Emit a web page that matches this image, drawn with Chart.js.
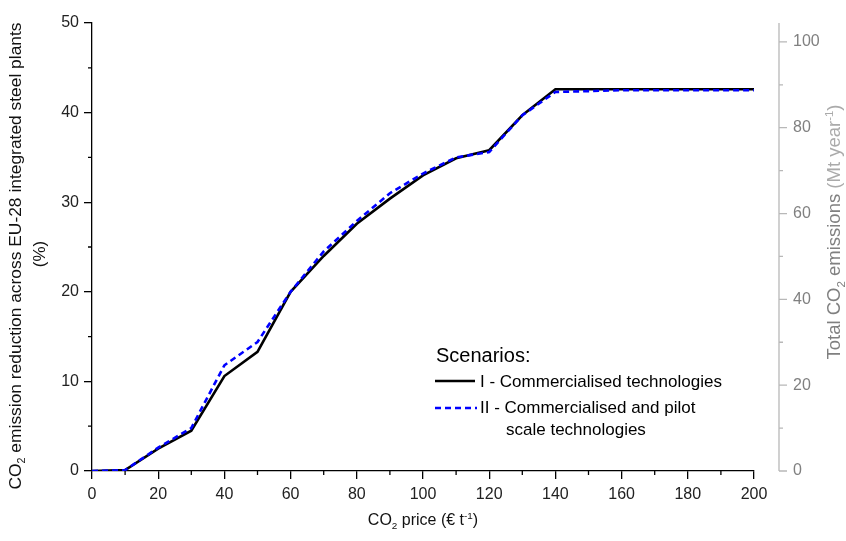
<!DOCTYPE html>
<html>
<head>
<meta charset="utf-8">
<script src="https://cdn.jsdelivr.net/npm/chart.js@4/dist/chart.umd.min.js"></script>
<style>
  html, body { margin: 0; padding: 0; background: #fff; }
  #wrap { width: 846px; height: 541px; }
</style>
</head>
<body>
<div id="wrap"><canvas id="mychart" width="846" height="541"></canvas></div>
<script>
// CO2 price (EUR per tonne)
var prices = [0, 10, 20, 30, 40, 50, 60, 70, 80, 90, 100, 110, 120, 130, 140, 150, 160, 170, 180, 190, 200]
// scenario I - commercialised technologies (% reduction)
var scenarioI = [0, 0.1, 2.5, 4.5, 10.6, 13.3, 20.0, 24.0, 27.6, 30.4, 33.0, 34.9, 35.8, 39.7, 42.6, 42.6, 42.6, 42.6, 42.6, 42.6, 42.6]
// scenario II - commercialised and pilot scale technologies (% reduction)
var scenarioII = [0, 0.1, 2.6, 4.8, 11.8, 14.4, 20.0, 24.5, 27.9, 31.0, 33.2, 35.0, 35.6, 39.7, 42.3, 42.4, 42.5, 42.5, 42.5, 42.5, 42.5]

var labelI = "I - Commercialised technologies"
var labelII = ["II - Commercialised and pilot", "scale technologies"]
var legendTitle = "Scenarios:"

var xTicks = [0, 20, 40, 60, 80, 100, 120, 140, 160, 180, 200]
var leftTicks = [0, 10, 20, 30, 40, 50]
var rightTicks = [0, 20, 40, 60, 80, 100]
var rightMax = 104.4   // right axis is total emissions, same height as 0-50 %

var FONT = "'Liberation Sans', Arial, sans-serif"

// draw text pieces with sub / superscripts, centred on (0,0) of the current transform
function drawRich(ctx, parts, size, color) {
  var w = 0
  parts.forEach(function(p){
    ctx.font = (p[1] ? size * 0.62 : size) + "px " + FONT
    w += ctx.measureText(p[0]).width
  })
  var x = -w / 2
  ctx.textBaseline = "middle"
  ctx.textAlign = "left"
  parts.forEach(function(p){
    var s = p[1] ? size * 0.62 : size
    ctx.font = s + "px " + FONT
    ctx.fillStyle = p[2] || color
    var dy = 0
    if (p[1] === "sub") dy = size * 0.35
    if (p[1] === "sup") dy = -size * 0.3
    ctx.fillText(p[0], x, dy)
    x += ctx.measureText(p[0]).width
  })
}

var decor = {
  id: "decor",
  afterDraw: function(chart){
    var ctx = chart.ctx
    var xs = chart.scales.x, ys = chart.scales.y, y2 = chart.scales.y2
    ctx.save()

    // minor ticks
    ctx.strokeStyle = "#000"
    ctx.lineWidth = 1.3
    ctx.beginPath()
    for (var v = 10; v < 200; v += 20) {
      var px = xs.getPixelForValue(v)
      ctx.moveTo(px, xs.top); ctx.lineTo(px, xs.top + 4)
    }
    for (var v = 5; v < 50; v += 10) {
      var py = ys.getPixelForValue(v)
      ctx.moveTo(ys.right, py); ctx.lineTo(ys.right - 4, py)
    }
    ctx.stroke()

    // right axis, set apart from the plot
    var ax = y2.left + 25
    ctx.strokeStyle = "#b8b8b8"
    ctx.lineWidth = 1.3
    ctx.beginPath()
    ctx.moveTo(ax, y2.getPixelForValue(0)); ctx.lineTo(ax, y2.getPixelForValue(rightMax))
    rightTicks.forEach(function(t){
      var py = y2.getPixelForValue(t)
      ctx.moveTo(ax, py); ctx.lineTo(ax + 8, py)
    })
    for (var v = 10; v < 100; v += 20) {
      var py = y2.getPixelForValue(v)
      ctx.moveTo(ax, py); ctx.lineTo(ax + 4, py)
    }
    ctx.stroke()

    // axis titles
    ctx.save()
    ctx.translate(xs.left + (xs.right - xs.left) / 2, 521)
    drawRich(ctx, [["CO"], ["2", "sub"], [" price (€ t"], ["-1", "sup"], [")"]], 16, "#111")
    ctx.restore()

    ctx.save()
    ctx.translate(16, 256)
    ctx.rotate(-Math.PI / 2)
    drawRich(ctx, [["CO"], ["2", "sub"], [" emission reduction across EU-28 integrated steel plants"]], 17.4, "#111")
    ctx.restore()
    ctx.save()
    ctx.translate(40, 254)
    ctx.rotate(-Math.PI / 2)
    drawRich(ctx, [["(%)"]], 17, "#111")
    ctx.restore()

    ctx.save()
    ctx.translate(835, 232)
    ctx.rotate(-Math.PI / 2)
    drawRich(ctx, [["Total CO"], ["2", "sub"], [" emissions "], ["(Mt year", null, "#aaa"], ["-1", "sup", "#aaa"], [")", null, "#aaa"]], 18.5, "#808080")
    ctx.restore()

    // legend
    ctx.textAlign = "left"
    ctx.textBaseline = "middle"
    ctx.fillStyle = "#000"
    ctx.font = "20px " + FONT
    ctx.fillText(legendTitle, 436, 356)
    ctx.font = "17px " + FONT
    ctx.lineWidth = 2.6
    ctx.strokeStyle = "#000"
    ctx.setLineDash([])
    ctx.beginPath(); ctx.moveTo(435, 381); ctx.lineTo(475, 381); ctx.stroke()
    ctx.fillText(labelI, 480, 382)
    ctx.strokeStyle = "#0000ff"
    ctx.setLineDash([6, 4])
    ctx.beginPath(); ctx.moveTo(435, 408); ctx.lineTo(477, 408); ctx.stroke()
    ctx.setLineDash([])
    ctx.fillText(labelII[0], 480, 408)
    ctx.fillText(labelII[1], 506, 430)

    ctx.restore()
  }
}

var ctx = document.getElementById("mychart").getContext("2d")

var chart = new Chart(ctx, {
  type: "line",
  data: {
    datasets: [
      {
        label: labelI,
        data: prices.map(function(p, i){ return {x: p, y: scenarioI[i]} }),
        borderColor: "#000",
        borderWidth: 2.6,
        pointRadius: 0,
        tension: 0,
        order: 2
      },
      {
        label: labelII.join(" "),
        data: prices.map(function(p, i){ return {x: p, y: scenarioII[i]} }),
        borderColor: "#0000ff",
        borderWidth: 2.6,
        borderDash: [6, 4],
        pointRadius: 0,
        tension: 0,
        order: 1
      }
    ]
  },
  options: {
    responsive: false,
    animation: false,
    layout: { padding: { top: 23, left: 0, right: 0, bottom: 0 } },
    plugins: { legend: { display: false }, tooltip: { enabled: false } },
    scales: {
      x: {
        type: "linear",
        min: 0, max: 200,
        afterBuildTicks: function(s){ s.ticks = xTicks.map(function(v){ return {value: v} }) },
        afterFit: function(s){ s.height = 70 },
        grid: { display: true, drawOnChartArea: false, drawTicks: true, tickLength: 8, color: "#000", lineWidth: 1.3 },
        border: { display: true, color: "#000", width: 1.3 },
        ticks: { color: "#222", font: { family: FONT, size: 16 }, padding: 6, maxRotation: 0 }
      },
      y: {
        position: "left",
        min: 0, max: 50,
        afterBuildTicks: function(s){ s.ticks = leftTicks.map(function(v){ return {value: v} }) },
        afterFit: function(s){ s.width = 92 },
        grid: { display: true, drawOnChartArea: false, drawTicks: true, tickLength: 8, color: "#000", lineWidth: 1.3 },
        border: { display: true, color: "#000", width: 1.3 },
        ticks: { color: "#222", font: { family: FONT, size: 16 }, padding: 5 }
      },
      y2: {
        position: "right",
        min: 0, max: rightMax,
        afterBuildTicks: function(s){ s.ticks = rightTicks.map(function(v){ return {value: v} }) },
        afterFit: function(s){ s.width = 92 },
        // invisible long tick marks push the labels out past the offset axis line
        grid: { display: true, drawOnChartArea: false, drawTicks: true, tickLength: 35, color: "rgba(0,0,0,0)" },
        border: { display: false },
        ticks: { color: "#808080", font: { family: FONT, size: 16 }, padding: 4 }
      }
    }
  },
  plugins: [decor]
})
</script>
</body>
</html>
